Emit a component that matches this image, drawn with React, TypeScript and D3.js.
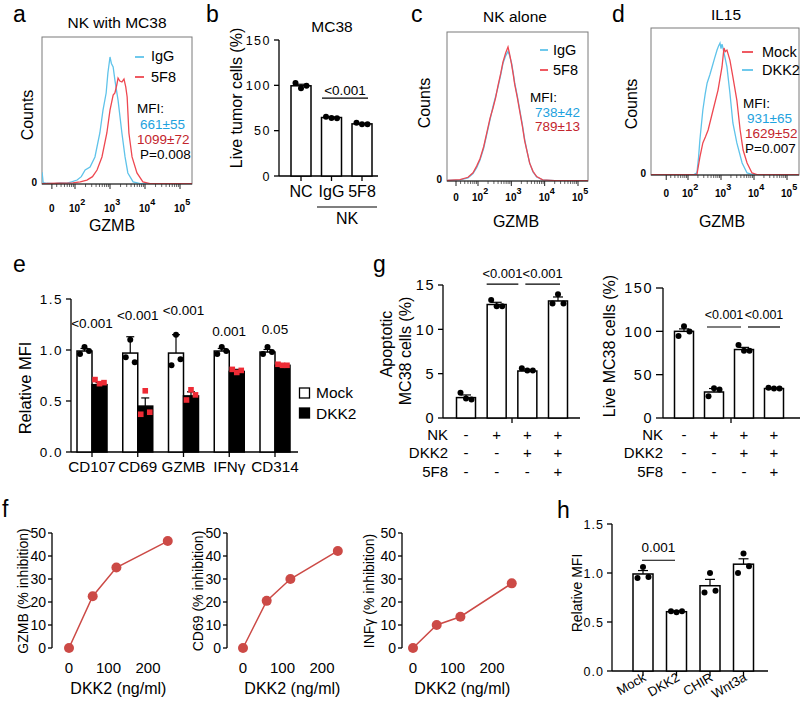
import * as d3 from 'd3';

const FONT = '"Liberation Sans", Arial, Helvetica, sans-serif';
const BLUE = '#5fc3ea';
const BLUE_TEXT = '#1ea2de';
const RED = '#ee4851';
const RED_TEXT = '#c3252d';
const DOSE_RED = '#cc4a46';
const SQUARE_RED = '#ee2b35';

type Pt = [number, number];

// flow histograms: [log10 GZMB, % of frame height]
const ZERO_LOG = 1.34;

const aIgG: Pt[] = [[1.06, 8], [1.09, 1], [1.2, 0.5], [1.4, 0.3], [1.57, 0.8], [1.75, 0.5], [1.9, 1.5], [2.06, 2.7], [2.18, 5], [2.29, 9.5], [2.43, 11.6], [2.57, 18.4], [2.71, 34.7], [2.8, 50.3], [2.89, 61.9], [2.94, 75.5], [3.0, 86.4], [3.04, 82], [3.09, 79.6], [3.14, 70.7], [3.23, 57.1], [3.34, 34.7], [3.43, 18.4], [3.51, 7.5], [3.66, 1.4], [3.86, 0.3], [4.3, 0.2], [5.4, 0.2]];
const a5F8: Pt[] = [[1.06, 0.3], [1.5, 0.5], [1.94, 0.7], [2.15, 1.5], [2.34, 2.7], [2.5, 5], [2.63, 9.5], [2.77, 18.4], [2.91, 34.7], [3.0, 50.3], [3.09, 60.5], [3.14, 61.9], [3.19, 67], [3.23, 72.1], [3.28, 70], [3.34, 69.4], [3.4, 71.4], [3.45, 66], [3.49, 59.2], [3.54, 34.7], [3.63, 18.4], [3.77, 7.5], [3.94, 1.4], [4.14, 0.3], [5.4, 0.2]];

const cIgG: Pt[] = [[1.0, 0.3], [1.46, 0.7], [1.7, 2], [1.85, 5], [1.96, 9], [2.06, 14], [2.17, 22], [2.27, 32], [2.36, 41], [2.45, 50], [2.53, 57], [2.6, 63], [2.68, 71], [2.75, 79], [2.83, 84], [2.9, 87], [2.95, 84], [3.01, 79], [3.06, 72], [3.1, 66], [3.18, 57], [3.25, 48], [3.33, 38], [3.4, 28], [3.48, 19], [3.55, 12], [3.65, 6], [3.76, 2.7], [3.94, 0.7], [4.3, 0.3], [5.5, 0.2]];
const c5F8: Pt[] = [[1.0, 0.3], [1.46, 0.9], [1.7, 2.5], [1.85, 5.5], [1.96, 10], [2.06, 15], [2.17, 23], [2.27, 33], [2.36, 42], [2.45, 49], [2.53, 56], [2.6, 64], [2.68, 72], [2.75, 80], [2.83, 86], [2.9, 90], [2.95, 85], [3.01, 78], [3.06, 71], [3.1, 65], [3.18, 56], [3.25, 47], [3.33, 37], [3.4, 27], [3.48, 19], [3.55, 12], [3.65, 6.5], [3.76, 3], [3.94, 0.8], [4.3, 0.3], [5.5, 0.2]];

const dDKK2: Pt[] = [[0.85, 0.2], [2.0, 0.2], [2.18, 0.3], [2.27, 1.4], [2.32, 12], [2.36, 23.8], [2.45, 44.2], [2.52, 55], [2.58, 62.6], [2.66, 68], [2.73, 73.5], [2.8, 79], [2.88, 85], [2.93, 88], [2.97, 89.8], [3.0, 86], [3.03, 89], [3.06, 86.4], [3.12, 80], [3.18, 73.5], [3.27, 55.8], [3.36, 35.4], [3.48, 21.8], [3.64, 8.2], [3.79, 1.4], [3.97, 0.3], [5.5, 0.2]];
const dMock: Pt[] = [[0.85, 0.2], [2.0, 0.2], [2.27, 0.3], [2.36, 12.2], [2.45, 21.8], [2.53, 26], [2.61, 30.6], [2.76, 44.2], [2.91, 57.8], [3.03, 73.5], [3.09, 86.4], [3.13, 84], [3.18, 85], [3.27, 78.2], [3.36, 66.7], [3.48, 51], [3.58, 30.6], [3.67, 17], [3.79, 8.2], [3.94, 1.4], [4.09, 0.3], [5.5, 0.2]];

// b
const bCats = ['NC', 'IgG', '5F8'];
const bMeans = [99.5, 64.5, 57.5];
const bErrs = [1.7, 0.6, 0.6];
const bDots = [[102.5, 96.7, 99.6], [65.4, 64, 63.6], [58.8, 57, 57]];

// e
const eMarkers = ['CD107', 'CD69', 'GZMB', 'IFNγ', 'CD314'];
const eMock = [0.99, 0.97, 0.97, 0.99, 0.98];
const eMockErr = [0.025, 0.16, 0.18, 0.025, 0.025];
const eMockDots = [[0.96, 1.03, 0.99], [0.93, 1.1, 0.88], [0.85, 1.15, 0.91], [0.96, 1.03, 0.99], [0.96, 1.03, 0.98]];
const eDKK2 = [0.66, 0.45, 0.55, 0.79, 0.85];
const eDKK2Err = [0.02, 0.08, 0.04, 0.02, 0.01];
const eDKK2Dots = [[0.71, 0.67, 0.68], [0.37, 0.6, 0.39], [0.51, 0.61, 0.56], [0.81, 0.78, 0.8], [0.86, 0.85, 0.85]];
const eP = ['<0.001', '<0.001', '<0.001', '0.001', '0.05'];
const ePY = [1.22, 1.29, 1.34, 1.14, 1.16];

// g
const gCats = ['1', '2', '3', '4'];
const gNK = ['-', '+', '+', '+'];
const gDKK2 = ['-', '-', '+', '+'];
const g5F8 = ['-', '-', '-', '+'];
const gApoMeans = [2.3, 12.8, 5.3, 13.2];
const gApoErrs = [0.3, 0.25, 0.1, 0.45];
const gApoDots = [[2.85, 2.2, 2.1], [13.3, 12.6, 12.6], [5.6, 5.35, 5.35], [12.9, 13.95, 12.9]];
const gLiveMeans = [100, 30, 79, 34];
const gLiveErrs = [2.8, 4, 2.5, 0.7];
const gLiveDots = [[94.7, 106, 99.7], [25, 34.3, 33], [84.3, 77.7, 77.7], [35, 34, 34]];

// f
const fDose1 = [0, 60, 120, 250];
const fGZMB = [0, 22.5, 35, 46.5];
const fDose2 = [0, 60, 120, 240];
const fCD69 = [0, 20.5, 30, 42.2];
const fDose3 = [0, 60, 120, 250];
const fINFg = [0, 10, 13.6, 28.1];

// h
const hCats = ['Mock', 'DKK2', 'CHIR', 'Wnt3a'];
const hMeans = [0.99, 0.605, 0.87, 1.09];
const hErrs = [0.035, 0.008, 0.065, 0.055];
const hDots = [[0.95, 1.06, 0.96], [0.61, 0.6, 0.61], [0.8, 1.0, 0.82], [1.0, 1.2, 1.07]];

type Curve = { data: Pt[]; color: string };

function Histogram(p: {
  id: string; left: number; right: number; top: number; bottom: number;
  x2: number; x5: number; curves: Curve[]; tickDy: number;
}) {
  const x = d3.scaleLinear().domain([2, 5]).range([p.x2, p.x5]);
  const y = d3.scaleLinear().domain([0, 100]).range([p.bottom, p.top]);
  const line = d3.line<Pt>().x(d => x(d[0])).y(d => y(d[1]));
  const major = [ZERO_LOG, 2, 3, 4, 5];
  const minor = d3.range(1, 5)
    .flatMap(dec => d3.range(2, 10).map(k => dec + Math.log10(k)))
    .filter(v => v > ZERO_LOG + 0.05 && x(v) < p.right);
  return (
    <g>
      <defs>
        <clipPath id={p.id}>
          <rect x={p.left} y={p.top} width={p.right - p.left} height={p.bottom - p.top} />
        </clipPath>
      </defs>
      <rect x={p.left} y={p.top} width={p.right - p.left} height={p.bottom - p.top} fill="none" stroke="#7a7a7a" strokeWidth={1} />
      <g clipPath={`url(#${p.id})`}>
        {p.curves.map((c, i) => (
          <path key={i} d={line(c.data) ?? ''} fill="none" stroke={c.color} strokeWidth={1.3} />
        ))}
      </g>
      <line x1={p.left} x2={p.right} y1={p.bottom} y2={p.bottom} stroke="#222" strokeWidth={1.2} />
      {major.map(v => (
        <line key={v} x1={x(v)} x2={x(v)} y1={p.bottom} y2={p.bottom + 5} stroke="#222" strokeWidth={1} />
      ))}
      {minor.map(v => (
        <line key={v} x1={x(v)} x2={x(v)} y1={p.bottom} y2={p.bottom + 3} stroke="#222" strokeWidth={0.7} />
      ))}
      <text x={p.left - 5} y={p.bottom + 2} textAnchor="end" fontSize={10} fontWeight="bold">0</text>
      {major.map((v, i) =>
        i === 0 ? (
          <text key={v} x={x(v)} y={p.bottom + p.tickDy} textAnchor="middle" fontSize={10} fontWeight="bold">0</text>
        ) : (
          <text key={v} x={x(v) - 6} y={p.bottom + p.tickDy} fontSize={10} fontWeight="bold">
            10<tspan dy={-7} fontSize={9}>{v}</tspan>
          </text>
        )
      )}
    </g>
  );
}

function YAxis(p: {
  x: number; scale: d3.ScaleLinear<number, number>; ticks: number[];
  fmt: (v: number) => string; fontSize: number; spacing?: number; len?: number; gap?: number;
}) {
  const len = p.len ?? 5;
  const gap = p.gap ?? 3;
  const [r0, r1] = p.scale.range();
  return (
    <g>
      <line x1={p.x} x2={p.x} y1={r0} y2={r1} stroke="#000" strokeWidth={1.3} />
      {p.ticks.map(t => (
        <g key={t}>
          <line x1={p.x - len} x2={p.x} y1={p.scale(t)} y2={p.scale(t)} stroke="#000" strokeWidth={1.3} />
          <text x={p.x - len - gap} y={p.scale(t)} dy="0.36em" textAnchor="end" fontSize={p.fontSize} letterSpacing={p.spacing ?? 0}>
            {p.fmt(t)}
          </text>
        </g>
      ))}
    </g>
  );
}

function Bars(p: {
  cats: string[]; means: number[]; errs: number[]; dots: number[][];
  x: (c: string) => number; y: d3.ScaleLinear<number, number>; barW: number;
  fill?: string; square?: boolean; dotColor?: string; capW?: number; jitter?: number;
}) {
  const capW = p.capW ?? 10;
  const jit = p.jitter ?? 5.5;
  return (
    <g>
      {p.cats.map((c, i) => {
        const cx = p.x(c);
        const top = p.y(p.means[i]);
        const eTop = p.y(p.means[i] + p.errs[i]);
        return (
          <g key={c}>
            <rect x={cx - p.barW / 2} y={top} width={p.barW} height={p.y(0) - top} fill={p.fill ?? '#fff'} stroke="#000" strokeWidth={1.5} />
            <line x1={cx} x2={cx} y1={top} y2={eTop} stroke="#000" strokeWidth={1.2} />
            <line x1={cx - capW / 2} x2={cx + capW / 2} y1={eTop} y2={eTop} stroke="#000" strokeWidth={1.2} />
            {p.dots[i].map((v, j) =>
              p.square ? (
                <rect key={j} x={cx + (j - 1) * jit - 2.8} y={p.y(v) - 2.8} width={5.6} height={5.6} fill={p.dotColor ?? SQUARE_RED} />
              ) : (
                <circle key={j} cx={cx + (j - 1) * jit} cy={p.y(v)} r={3} fill={p.dotColor ?? '#000'} />
              )
            )}
          </g>
        );
      })}
    </g>
  );
}

function SigLine({ x1, x2, y, label, gap, fontSize = 13.5 }: { x1: number; x2: number; y: number; label: string; gap: number; fontSize?: number }) {
  return (
    <g>
      <line x1={x1} x2={x2} y1={y} y2={y} stroke="#000" strokeWidth={1.2} />
      <text x={(x1 + x2) / 2} y={y - gap} textAnchor="middle" fontSize={fontSize}>{label}</text>
    </g>
  );
}

function DosePlot(p: { axisX: number; zeroX: number; doses: number[]; vals: number[]; ylabel: string; labelX: number }) {
  const x = d3.scaleLinear().domain([0, 100]).range([p.zeroX, p.zeroX + 39.5]);
  const y = d3.scaleLinear().domain([0, 50]).range([648, 533]);
  const pts: Pt[] = p.doses.map((d, i) => [d, p.vals[i]]);
  const line = d3.line<Pt>().x(d => x(d[0])).y(d => y(d[1]));
  return (
    <g>
      <YAxis x={p.axisX} scale={y} ticks={[0, 10, 20, 30, 40, 50]} fmt={v => String(v)} fontSize={14} len={4} gap={2} />
      {[0, 100, 200].map(t => (
        <text key={t} x={x(t)} y={673} textAnchor="middle" fontSize={15}>{t}</text>
      ))}
      <text x={x(125)} y={694} textAnchor="middle" fontSize={16}>DKK2 (ng/ml)</text>
      <text transform={`translate(${p.labelX},591) rotate(-90)`} textAnchor="middle" fontSize={14}>{p.ylabel}</text>
      <path d={line(pts) ?? ''} fill="none" stroke={DOSE_RED} strokeWidth={1.5} />
      {pts.map((d, i) => (
        <circle key={i} cx={x(d[0])} cy={y(d[1])} r={5} fill={DOSE_RED} />
      ))}
    </g>
  );
}

function PanelLetter({ x, y, t }: { x: number; y: number; t: string }) {
  return <text x={x} y={y} fontSize={23}>{t}</text>;
}

export default function App() {
  // b
  const bY = d3.scaleLinear().domain([0, 150]).range([176, 40]);
  const bX = d3.scalePoint<string>().domain(bCats).range([301, 362]);
  // e
  const eY = d3.scaleLinear().domain([0, 1.5]).range([452, 299]);
  const eX = d3.scalePoint<string>().domain(eMarkers).range([92, 275]);
  // g
  const gAY = d3.scaleLinear().domain([0, 15]).range([418, 285]);
  const gAX = d3.scalePoint<string>().domain(gCats).range([466, 558]);
  const gBY = d3.scaleLinear().domain([0, 150]).range([418, 288]);
  const gBX = d3.scalePoint<string>().domain(gCats).range([684, 774]);
  // h
  const hY = d3.scaleLinear().domain([0, 1.5]).range([671, 524]);
  const hX = d3.scalePoint<string>().domain(hCats).range([643, 743.5]);

  const tableRows: [string, string[]][] = [['NK', gNK], ['DKK2', gDKK2], ['5F8', g5F8]];
  const rowY = [440, 458, 477];

  return (
    <div style={{ position: 'absolute', left: 0, top: 0 }}>
      <svg width={800} height={701} style={{ fontFamily: FONT, display: 'block' }}>
        <rect width={800} height={701} fill="#fff" />

        {/* a */}
        <PanelLetter x={13} y={22} t="a" />
        <text x={117} y={28} textAnchor="middle" fontSize={15.5}>NK with MC38</text>
        <Histogram id="clipA" left={42} right={192} top={37} bottom={184} x2={75} x5={180} tickDy={28}
          curves={[{ data: aIgG, color: BLUE }, { data: a5F8, color: RED }]} />
        <text transform="translate(33,115) rotate(-90)" textAnchor="middle" fontSize={16}>Counts</text>
        <text x={112} y={231} textAnchor="middle" fontSize={16}>GZMB</text>
        <line x1={135} x2={144} y1={57} y2={57} stroke={BLUE} strokeWidth={1.8} />
        <text x={151} y={61} fontSize={14.5}>IgG</text>
        <line x1={135} x2={144} y1={77} y2={77} stroke={RED} strokeWidth={1.8} />
        <text x={151} y={82} fontSize={14.5}>5F8</text>
        <text x={137} y={113} fontSize={13.5}>MFI:</text>
        <text x={140} y={128.5} fontSize={13.5} fill={BLUE_TEXT}>661±55</text>
        <text x={137} y={143.5} fontSize={13.5} fill={RED_TEXT}>1099±72</text>
        <text x={140} y={158.5} fontSize={13.5}>P=0.008</text>

        {/* b */}
        <PanelLetter x={206} y={22} t="b" />
        <text x={332} y={32} textAnchor="middle" fontSize={15.5}>MC38</text>
        <YAxis x={279} scale={bY} ticks={[0, 50, 100, 150]} fmt={v => String(v)} fontSize={12.5} spacing={1.5} />
        <line x1={279} x2={378} y1={176} y2={176} stroke="#000" strokeWidth={1.3} />
        {bCats.map(c => (
          <g key={c}>
            <line x1={bX(c)!} x2={bX(c)!} y1={176} y2={181} stroke="#000" strokeWidth={1.3} />
            <text x={bX(c)!} y={197} textAnchor="middle" fontSize={16}>{c}</text>
          </g>
        ))}
        <Bars cats={bCats} means={bMeans} errs={bErrs} dots={bDots} x={c => bX(c)!} y={bY} barW={20} />
        <SigLine x1={322} x2={368} y={bY(86)} label="<0.001" gap={3} />
        <line x1={317} x2={377} y1={207} y2={207} stroke="#000" strokeWidth={1.2} />
        <text x={347} y={224} textAnchor="middle" fontSize={16}>NK</text>
        <text transform="translate(242,98) rotate(-90)" textAnchor="middle" fontSize={16}>Live tumor  cells (%)</text>

        {/* c */}
        <PanelLetter x={411} y={22} t="c" />
        <text x={515} y={22} textAnchor="middle" fontSize={15.5}>NK alone</text>
        <Histogram id="clipC" left={447} right={588} top={32} bottom={181} x2={478} x5={578} tickDy={20}
          curves={[{ data: cIgG, color: BLUE }, { data: c5F8, color: RED }]} />
        <text transform="translate(430,103) rotate(-90)" textAnchor="middle" fontSize={16}>Counts</text>
        <text x={516} y={227} textAnchor="middle" fontSize={16}>GZMB</text>
        <line x1={540} x2={548} y1={50} y2={50} stroke={BLUE} strokeWidth={1.8} />
        <text x={553} y={55} fontSize={14.5}>IgG</text>
        <line x1={540} x2={548} y1={70} y2={70} stroke={RED} strokeWidth={1.8} />
        <text x={553} y={75} fontSize={14.5}>5F8</text>
        <text x={530} y={102} fontSize={13.5}>MFI:</text>
        <text x={535} y={117} fontSize={13.5} fill={BLUE_TEXT}>738±42</text>
        <text x={535} y={131} fontSize={13.5} fill={RED_TEXT}>789±13</text>

        {/* d */}
        <PanelLetter x={612} y={22} t="d" />
        <text x={726} y={20} textAnchor="middle" fontSize={15.5}>IL15</text>
        <Histogram id="clipD" left={651} right={799} top={28} bottom={175} x2={688} x5={787} tickDy={22}
          curves={[{ data: dDKK2, color: BLUE }, { data: dMock, color: RED }]} />
        <text transform="translate(637,104) rotate(-90)" textAnchor="middle" fontSize={16}>Counts</text>
        <text x={722} y={227} textAnchor="middle" fontSize={16}>GZMB</text>
        <line x1={742} x2={753} y1={52} y2={52} stroke={RED} strokeWidth={1.8} />
        <text x={762} y={57} fontSize={14.5}>Mock</text>
        <line x1={742} x2={753} y1={70} y2={70} stroke={BLUE} strokeWidth={1.8} />
        <text x={762} y={75} fontSize={14.5}>DKK2</text>
        <text x={743} y={108} fontSize={13.5}>MFI:</text>
        <text x={747} y={122.5} fontSize={13.5} fill={BLUE_TEXT}>931±65</text>
        <text x={745} y={137.5} fontSize={13.5} fill={RED_TEXT}>1629±52</text>
        <text x={745} y={153} fontSize={13.5}>P=0.007</text>

        {/* e */}
        <PanelLetter x={13} y={272} t="e" />
        <YAxis x={71} scale={eY} ticks={[0, 0.5, 1, 1.5]} fmt={v => v.toFixed(1)} fontSize={13.5} spacing={1.5} />
        <line x1={71} x2={298} y1={452} y2={452} stroke="#000" strokeWidth={1.3} />
        {eMarkers.map((m, i) => (
          <g key={m}>
            <line x1={eX(m)!} x2={eX(m)!} y1={452} y2={457} stroke="#000" strokeWidth={1.3} />
            <text x={eX(m)!} y={472} textAnchor="middle" fontSize={15.2}>{m}</text>
            <text x={eX(m)!} y={eY(ePY[i])} textAnchor="middle" fontSize={13.5}>{eP[i]}</text>
          </g>
        ))}
        <Bars cats={eMarkers} means={eMock} errs={eMockErr} dots={eMockDots} x={c => eX(c)! - 7.5} y={eY} barW={15} capW={8} jitter={4.5} />
        <Bars cats={eMarkers} means={eDKK2} errs={eDKK2Err} dots={eDKK2Dots} x={c => eX(c)! + 7.5} y={eY} barW={15} capW={8} jitter={4.5} fill="#000" square />
        <text transform="translate(31,388) rotate(-90)" textAnchor="middle" fontSize={16.5}>Relative MFI</text>
        <rect x={299.5} y={388} width={10} height={10} fill="#fff" stroke="#000" strokeWidth={1.3} />
        <text x={316} y={398} fontSize={15.5}>Mock</text>
        <rect x={299.5} y={408} width={10} height={10} fill="#000" stroke="#000" strokeWidth={1.3} />
        <text x={316} y={419} fontSize={15.5}>DKK2</text>

        {/* g */}
        <PanelLetter x={373} y={272} t="g" />
        <YAxis x={443} scale={gAY} ticks={[0, 5, 10, 15]} fmt={v => String(v)} fontSize={14.5} spacing={1.5} />
        <line x1={443} x2={580} y1={418} y2={418} stroke="#000" strokeWidth={1.3} />
        <line x1={512} x2={512} y1={418} y2={423} stroke="#000" strokeWidth={1.3} />
        <Bars cats={gCats} means={gApoMeans} errs={gApoErrs} dots={gApoDots} x={c => gAX(c)!} y={gAY} barW={19} />
        <SigLine x1={gAX('2')! - 10} x2={gAX('3')! - 9} y={gAY(15.1)} label="<0.001" gap={6} fontSize={13} />
        <SigLine x1={gAX('3')! - 2} x2={gAX('4')! + 2} y={gAY(15.1)} label="<0.001" gap={6} fontSize={13} />
        <text transform="translate(392,344) rotate(-90)" textAnchor="middle" fontSize={16}>Apoptotic</text>
        <text transform="translate(411,351) rotate(-90)" textAnchor="middle" fontSize={16}>MC38 cells (%)</text>

        <YAxis x={663} scale={gBY} ticks={[0, 50, 100, 150]} fmt={v => String(v)} fontSize={14.5} spacing={1.5} len={7} />
        <line x1={663} x2={800} y1={418} y2={418} stroke="#000" strokeWidth={1.3} />
        <line x1={731} x2={731} y1={418} y2={423} stroke="#000" strokeWidth={1.3} />
        <Bars cats={gCats} means={gLiveMeans} errs={gLiveErrs} dots={gLiveDots} x={c => gBX(c)!} y={gBY} barW={19} />
        <SigLine x1={gBX('2')! - 7} x2={gBX('3')! - 3} y={gBY(105)} label="<0.001" gap={8} fontSize={12.5} />
        <SigLine x1={gBX('3')! + 4} x2={gBX('4')! + 6} y={gBY(105)} label="<0.001" gap={8} fontSize={12.5} />
        <text transform="translate(615,346) rotate(-90)" textAnchor="middle" fontSize={16}>Live MC38 cells (%)</text>

        {tableRows.map(([name, signs], r) => (
          <g key={name} fontSize={15}>
            <text x={448} y={rowY[r]} textAnchor="end">{name}</text>
            <text x={663} y={rowY[r]} textAnchor="end">{name}</text>
            {gCats.map((c, i) => (
              <g key={c}>
                <text x={gAX(c)!} y={rowY[r]} textAnchor="middle">{signs[i]}</text>
                <text x={gBX(c)!} y={rowY[r]} textAnchor="middle">{signs[i]}</text>
              </g>
            ))}
          </g>
        ))}

        {/* f */}
        <PanelLetter x={2} y={517} t="f" />
        <DosePlot axisX={52} zeroX={69} doses={fDose1} vals={fGZMB} ylabel="GZMB (% inhibition)" labelX={28} />
        <DosePlot axisX={227} zeroX={243} doses={fDose2} vals={fCD69} ylabel="CD69 (% inhibition)" labelX={203} />
        <DosePlot axisX={402} zeroX={413} doses={fDose3} vals={fINFg} ylabel="INFγ (% inhibition)" labelX={374} />

        {/* h */}
        <PanelLetter x={557} y={518} t="h" />
        <YAxis x={612} scale={hY} ticks={[0, 0.5, 1, 1.5]} fmt={v => v.toFixed(1)} fontSize={12.5} spacing={1} />
        <line x1={612} x2={768} y1={671} y2={671} stroke="#000" strokeWidth={1.3} />
        {hCats.map(c => (
          <g key={c}>
            <line x1={hX(c)!} x2={hX(c)!} y1={671} y2={676} stroke="#000" strokeWidth={1.3} />
            <text transform={`translate(${hX(c)! + 4},680) rotate(-30)`} textAnchor="end" fontSize={13}>{c}</text>
          </g>
        ))}
        <Bars cats={hCats} means={hMeans} errs={hErrs} dots={hDots} x={c => hX(c)!} y={hY} barW={20} />
        <SigLine x1={642} x2={675} y={hY(1.13)} label="0.001" gap={8} />
        <text transform="translate(582,593) rotate(-90)" textAnchor="middle" fontSize={14}>Relative MFI</text>
      </svg>
    </div>
  );
}
